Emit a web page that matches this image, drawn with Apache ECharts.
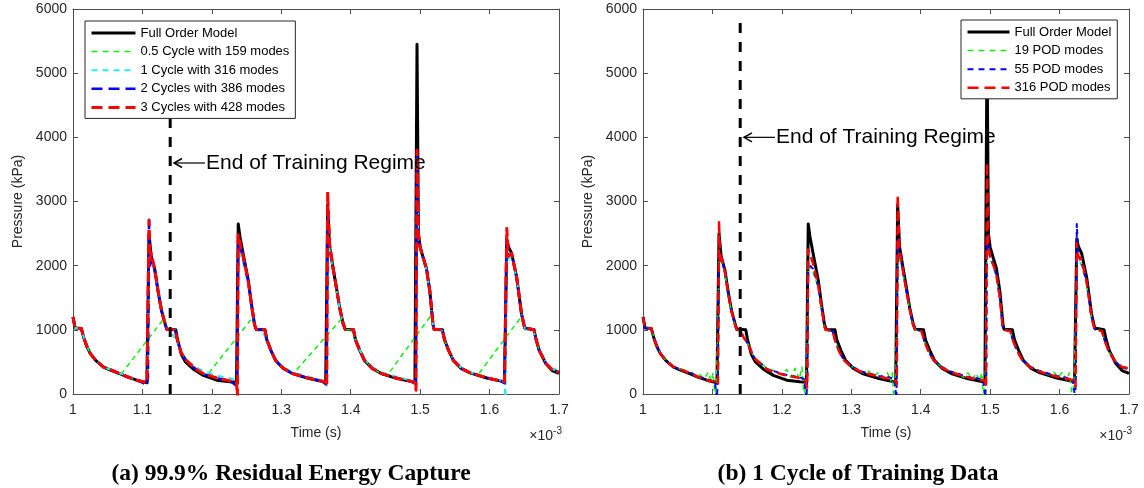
<!DOCTYPE html>
<html>
<head>
<meta charset="utf-8">
<script src="https://cdn.jsdelivr.net/npm/echarts@6/dist/echarts.min.js"></script>
<style>
  html, body { margin: 0; padding: 0; background: #fff; }
  #chart { width: 1144px; height: 488px; }
</style>
</head>
<body>
<div id="chart"></div>
<script>
// ---------------- DATA (time in units of 1e-3 s, pressure in kPa) ----------------
const xTickValues = [1, 1.1, 1.2, 1.3, 1.4, 1.5, 1.6, 1.7];
const yTickValues = [0, 1000, 2000, 3000, 4000, 5000, 6000];

const fullOrder = [
  [1.000,1200],[1.003,1030],[1.012,1020],[1.016,860],[1.020,740],[1.025,630],[1.033,520],[1.044,420],[1.055,370],[1.068,315],[1.080,260],[1.092,215],[1.1065,175],[1.108,200],
  [1.1095,2500],[1.1125,2150],[1.118,1930],[1.123,1570],[1.1275,1300],[1.1325,1100],[1.135,1010],[1.148,1000],[1.1505,850],[1.156,620],[1.162,500],[1.173,390],[1.1877,290],[1.207,215],[1.226,190],[1.2355,185],
  [1.238,2650],[1.2405,2450],[1.245,2190],[1.2525,1770],[1.257,1400],[1.2615,1080],[1.264,1005],[1.2765,1000],[1.279,850],[1.285,680],[1.292,520],[1.303,400],[1.316,320],[1.34,240],[1.358,200],[1.364,185],
  [1.3668,2950],[1.3695,2300],[1.374,2000],[1.3795,1650],[1.384,1350],[1.389,1100],[1.392,1010],[1.404,1000],[1.407,840],[1.413,680],[1.42,520],[1.431,400],[1.444,320],[1.467,240],[1.486,200],[1.4925,180],
  [1.4955,5450],[1.4975,2500],[1.500,2290],[1.505,2100],[1.509,1960],[1.514,1600],[1.5185,1080],[1.520,1010],[1.532,1000],[1.535,850],[1.541,680],[1.548,520],[1.559,400],[1.572,330],[1.596,250],[1.615,205],[1.6215,190],
  [1.6248,2420],[1.627,2300],[1.6318,2190],[1.639,1820],[1.646,1250],[1.6505,1030],[1.652,1000],[1.664,1000],[1.667,850],[1.6715,680],[1.681,475],[1.690,365],[1.700,320]
];

// panel (a)
const halfCycle159 = [
  [1.000,1180],[1.003,1030],[1.012,1020],[1.016,860],[1.020,740],[1.025,630],[1.033,520],[1.044,420],[1.055,370],[1.069,305],
  [1.132,1190],[1.136,1000],[1.147,1000],[1.150,850],[1.156,640],[1.1635,520],[1.1755,400],[1.193,290],
  [1.259,1195],[1.264,1000],[1.2765,1000],[1.279,850],[1.285,680],[1.292,520],[1.303,400],[1.317,315],
  [1.387,1175],[1.392,1000],[1.404,1000],[1.407,840],[1.413,680],[1.42,520],[1.431,400],[1.444,320],[1.453,295],
  [1.514,1200],[1.5185,1080],[1.520,1010],[1.532,1000],[1.535,850],[1.541,680],[1.548,520],[1.559,400],[1.572,330],[1.583,295],
  [1.645,1195],[1.652,1000],[1.664,1000],[1.667,850],[1.6715,680],[1.681,490],[1.690,400],[1.700,370]
];
const oneCycle316 = [
  [1.000,1200],[1.003,1030],[1.012,1010],[1.016,870],[1.020,750],[1.025,640],[1.033,525],[1.044,425],[1.055,375],[1.068,320],[1.080,265],[1.092,215],[1.1065,170],[1.108,220],
  [1.1095,2250],[1.1125,2100],[1.118,1900],[1.123,1560],[1.1275,1300],[1.1325,1100],[1.137,980],[1.145,900],[1.152,760],[1.158,620],[1.165,520],[1.177,420],[1.19,340],[1.21,280],[1.228,240],[1.2355,220],[1.2365,80],
  [1.238,2300],[1.2405,2200],[1.245,2050],[1.2525,1700],[1.257,1380],[1.2615,1080],[1.265,990],[1.274,960],[1.279,830],[1.285,680],[1.292,530],[1.303,420],[1.316,340],[1.34,270],[1.358,215],[1.364,190],[1.3655,130],
  [1.3668,2650],[1.3695,2250],[1.374,1950],[1.3795,1620],[1.384,1330],[1.389,1100],[1.392,1010],[1.403,980],[1.407,840],[1.413,690],[1.42,530],[1.431,420],[1.444,340],[1.467,265],[1.486,215],[1.4925,190],[1.494,120],
  [1.4955,3650],[1.4975,2400],[1.500,2250],[1.505,2080],[1.509,1940],[1.514,1580],[1.5185,1080],[1.520,1010],[1.531,990],[1.535,850],[1.541,690],[1.548,530],[1.559,410],[1.572,340],[1.596,260],[1.615,215],[1.6215,150],[1.623,-60],
  [1.6248,2250],[1.627,2100],[1.6318,2150],[1.639,1800],[1.646,1250],[1.6505,1030],[1.652,1000],[1.663,990],[1.667,850],[1.6715,690],[1.681,490],[1.690,390],[1.700,350]
];
const twoCycles386 = [
  [1.000,1200],[1.003,1030],[1.012,1020],[1.016,860],[1.020,740],[1.025,630],[1.033,520],[1.044,420],[1.055,370],[1.068,315],[1.080,260],[1.092,215],[1.1065,140],[1.108,260],
  [1.1095,2760],[1.111,2000],[1.1125,2150],[1.118,1900],[1.123,1560],[1.1275,1300],[1.1325,1100],[1.135,1010],[1.147,1000],[1.150,850],[1.156,640],[1.1635,520],[1.1755,400],[1.187,315],[1.207,245],[1.226,205],[1.2355,130],[1.2368,260],
  [1.238,2380],[1.2405,2300],[1.245,2120],[1.2525,1750],[1.257,1400],[1.2615,1080],[1.264,1005],[1.2765,1000],[1.279,850],[1.285,680],[1.292,520],[1.303,400],[1.316,320],[1.34,245],[1.358,205],[1.364,150],[1.3655,230],
  [1.3668,2900],[1.3695,2350],[1.374,2000],[1.3795,1650],[1.384,1350],[1.389,1100],[1.392,1010],[1.404,1000],[1.407,840],[1.413,680],[1.42,520],[1.431,400],[1.444,320],[1.467,245],[1.486,200],[1.4925,160],[1.494,100],
  [1.4955,3750],[1.4975,2450],[1.500,2290],[1.505,2100],[1.509,1960],[1.514,1600],[1.5185,1080],[1.520,1010],[1.532,1000],[1.535,850],[1.541,680],[1.548,520],[1.559,400],[1.572,330],[1.596,250],[1.615,205],[1.6215,170],
  [1.6248,2350],[1.627,2150],[1.6318,2190],[1.639,1820],[1.646,1250],[1.6505,1030],[1.652,1000],[1.664,1000],[1.667,850],[1.6715,680],[1.681,480],[1.690,380],[1.700,340]
];
const threeCycles428 = [
  [1.000,1200],[1.003,1030],[1.012,1020],[1.016,860],[1.020,740],[1.025,630],[1.033,520],[1.044,420],[1.055,375],[1.068,310],[1.080,265],[1.092,210],[1.1065,180],[1.108,200],
  [1.1095,2700],[1.111,2100],[1.1125,2200],[1.118,1930],[1.123,1570],[1.1275,1300],[1.1325,1100],[1.135,1010],[1.147,1000],[1.150,850],[1.156,640],[1.1635,520],[1.1755,400],[1.187,320],[1.207,250],[1.226,205],[1.2355,190],[1.2368,-40],
  [1.238,2480],[1.2405,2350],[1.245,2150],[1.2525,1750],[1.257,1400],[1.2615,1080],[1.264,1005],[1.2765,1000],[1.279,850],[1.285,680],[1.292,520],[1.303,400],[1.316,320],[1.34,245],[1.358,205],[1.364,185],[1.3655,120],
  [1.3668,3150],[1.3695,2350],[1.374,2000],[1.3795,1650],[1.384,1350],[1.389,1100],[1.392,1010],[1.404,1000],[1.407,840],[1.413,680],[1.42,520],[1.431,400],[1.444,320],[1.467,245],[1.486,200],[1.4925,180],[1.494,60],
  [1.4955,3800],[1.4975,2500],[1.500,2290],[1.505,2100],[1.509,1960],[1.514,1600],[1.5185,1080],[1.520,1010],[1.532,1000],[1.535,850],[1.541,680],[1.548,520],[1.559,400],[1.572,330],[1.596,250],[1.615,205],[1.6215,190],
  [1.6248,2580],[1.627,2150],[1.6318,2190],[1.639,1820],[1.646,1250],[1.6505,1030],[1.652,1000],[1.664,1000],[1.667,850],[1.6715,680],[1.681,480],[1.690,380],[1.700,340]
];

// panel (b)
const pod19 = [
  [1.000,1180],[1.003,1040],[1.012,1010],[1.016,870],[1.020,750],[1.025,640],[1.033,520],[1.044,440],[1.052,390],[1.058,400],[1.064,330],[1.070,340],[1.076,280],[1.082,300],[1.088,240],[1.094,340],[1.098,200],[1.101,330],[1.1035,-60],[1.106,250],
  [1.1095,2100],[1.1125,2100],[1.118,1880],[1.123,1540],[1.1275,1280],[1.1325,1080],[1.135,1000],[1.140,980],[1.145,870],[1.1513,780],[1.16,570],[1.1786,400],[1.19,360],[1.20,300],[1.207,380],[1.213,260],[1.219,400],[1.225,230],[1.229,420],[1.232,-60],[1.235,250],
  [1.238,2000],[1.2405,2000],[1.245,1900],[1.2525,1650],[1.257,1330],[1.2615,1040],[1.263,1000],[1.273,980],[1.277,820],[1.283,650],[1.29,520],[1.30,430],[1.31,390],[1.318,330],[1.325,360],[1.332,280],[1.339,330],[1.346,250],[1.352,330],[1.357,200],[1.359,330],[1.361,-60],[1.364,250],
  [1.3668,2050],[1.3695,2100],[1.374,1900],[1.3795,1600],[1.384,1320],[1.389,1070],[1.392,1000],[1.401,980],[1.405,830],[1.411,670],[1.418,530],[1.429,430],[1.443,350],[1.455,320],[1.462,260],[1.468,330],[1.474,230],[1.480,320],[1.485,200],[1.488,330],[1.490,-60],[1.493,260],
  [1.4955,2300],[1.4975,2200],[1.500,2100],[1.505,1980],[1.509,1830],[1.514,1500],[1.518,1050],[1.520,1000],[1.529,980],[1.533,830],[1.539,670],[1.546,530],[1.557,430],[1.571,360],[1.585,300],[1.592,340],[1.598,260],[1.604,340],[1.610,220],[1.614,330],[1.6185,-60],[1.621,250],
  [1.6248,2050],[1.627,2100],[1.6318,2000],[1.639,1700],[1.646,1200],[1.6505,1010],[1.661,980],[1.665,830],[1.6715,650],[1.681,500],[1.690,420],[1.700,420]
];
const pod55 = [
  [1.000,1200],[1.003,1030],[1.012,1020],[1.016,860],[1.020,740],[1.025,630],[1.033,520],[1.044,430],[1.055,370],[1.068,330],[1.080,270],[1.092,230],[1.100,200],[1.104,150],[1.1065,-60],[1.108,300],
  [1.1095,2200],[1.1125,2150],[1.118,1900],[1.123,1550],[1.1275,1290],[1.1325,1090],[1.135,1000],[1.140,990],[1.145,880],[1.1513,780],[1.16,570],[1.1786,390],[1.2023,310],[1.215,280],[1.226,260],[1.232,230],[1.2355,-60],[1.2368,300],
  [1.238,2050],[1.2405,2000],[1.245,1950],[1.2525,1680],[1.257,1350],[1.2615,1050],[1.263,1000],[1.273,980],[1.277,820],[1.283,650],[1.29,520],[1.30,430],[1.315,350],[1.34,280],[1.355,260],[1.362,230],[1.365,-60],[1.3655,250],
  [1.3668,2400],[1.3695,2200],[1.374,1950],[1.3795,1600],[1.384,1330],[1.389,1080],[1.392,1000],[1.401,980],[1.405,830],[1.411,670],[1.418,530],[1.429,430],[1.443,350],[1.467,270],[1.483,240],[1.490,220],[1.493,-40],[1.4945,300],
  [1.4955,2500],[1.4975,2300],[1.500,2150],[1.505,2000],[1.509,1850],[1.514,1500],[1.518,1050],[1.520,1000],[1.529,980],[1.533,830],[1.539,670],[1.546,530],[1.557,430],[1.571,360],[1.596,280],[1.612,250],[1.619,220],[1.6225,-60],[1.6235,300],
  [1.6248,2650],[1.627,2150],[1.6318,2050],[1.639,1750],[1.646,1200],[1.6505,1010],[1.661,980],[1.665,830],[1.6715,650],[1.681,500],[1.690,410],[1.700,390]
];
const pod316 = [
  [1.000,1200],[1.003,1030],[1.012,1020],[1.016,860],[1.020,740],[1.025,630],[1.033,520],[1.044,420],[1.055,380],[1.068,320],[1.080,265],[1.092,215],[1.1065,190],[1.108,150],
  [1.1095,2700],[1.111,2050],[1.1125,2150],[1.118,1900],[1.123,1550],[1.1275,1290],[1.1325,1090],[1.135,1000],[1.140,990],[1.145,880],[1.1513,785],[1.16,560],[1.1786,380],[1.2023,300],[1.226,250],[1.234,200],[1.2365,100],
  [1.238,2250],[1.2405,2180],[1.245,2030],[1.2525,1680],[1.257,1350],[1.2615,1050],[1.263,1000],[1.273,980],[1.277,820],[1.283,650],[1.29,520],[1.30,420],[1.315,340],[1.34,270],[1.358,230],[1.364,200],[1.3655,150],
  [1.3668,3100],[1.3695,2250],[1.374,1950],[1.3795,1600],[1.384,1330],[1.389,1080],[1.392,1000],[1.401,980],[1.405,830],[1.411,670],[1.418,530],[1.429,420],[1.443,340],[1.467,260],[1.486,220],[1.4925,200],[1.494,100],
  [1.4955,3600],[1.4975,2300],[1.500,2150],[1.505,2000],[1.509,1850],[1.514,1500],[1.518,1050],[1.520,1000],[1.529,980],[1.533,830],[1.539,670],[1.546,530],[1.557,420],[1.571,350],[1.596,270],[1.615,230],[1.6215,200],[1.623,120],
  [1.6248,2350],[1.627,2150],[1.6318,2100],[1.639,1750],[1.646,1200],[1.6505,1010],[1.661,980],[1.665,830],[1.6715,650],[1.681,500],[1.690,420],[1.700,400]
];

const trainingEndLine = [[1.14, 0], [1.14, 5920]];
const annotationText = 'End of Training Regime';
const annotationY = [3600, 4000];          // kPa level of the arrow, panel a / b
const annotationX = [1.1455, 1.1915];      // arrow tip, text start
const panelCaptions = ['(a) 99.9% Residual Energy Capture', '(b) 1 Cycle of Training Data'];
const legendNamesA = ['Full Order Model', '0.5 Cycle with 159 modes', '1 Cycle with 316 modes', '2 Cycles with 386 modes', '3 Cycles with 428 modes'];
const legendNamesB = ['Full Order Model', '19 POD modes', '55 POD modes', '316 POD modes'];

// ---------------- CHART ----------------
const FONT = "'Liberation Sans', Arial, Helvetica, sans-serif";
const AXC = '#505050';
const LBC = '#262626';

const chart = echarts.init(document.getElementById('chart'), null, { renderer: 'canvas' });

const GRIDS = [
  { left: 73, top: 9, width: 486, height: 385 },
  { left: 643, top: 9, width: 486, height: 385 }
];

function xAxes(g) {
  const base = {
    gridIndex: g, type: 'value', min: xTickValues[0], max: xTickValues[xTickValues.length - 1], interval: 0.1,
    axisLine: { show: true, onZero: false, lineStyle: { color: AXC, width: 1 } },
    axisTick: { show: true, inside: true, length: 5, lineStyle: { color: AXC, width: 1 } },
    splitLine: { show: false }
  };
  return [
    Object.assign({}, base, {
      position: 'bottom',
      axisLabel: { color: LBC, fontSize: 14, fontFamily: FONT, margin: 9, formatter: v => String(+(+v).toFixed(1)) },
      name: 'Time (s)', nameLocation: 'middle', nameGap: 32,
      nameTextStyle: { color: LBC, fontSize: 14, fontFamily: FONT }
    }),
    Object.assign({}, base, { position: 'top', axisLabel: { show: false } })
  ];
}
function yAxes(g) {
  const base = {
    gridIndex: g, type: 'value', min: yTickValues[0], max: yTickValues[yTickValues.length - 1], interval: 1000,
    axisLine: { show: true, onZero: false, lineStyle: { color: AXC, width: 1 } },
    axisTick: { show: true, inside: true, length: 5, lineStyle: { color: AXC, width: 1 } },
    splitLine: { show: false }
  };
  return [
    Object.assign({}, base, {
      position: 'left',
      axisLabel: { color: LBC, fontSize: 14, fontFamily: FONT, margin: 6, formatter: v => String(Math.round(v)) },
      name: 'Pressure (kPa)', nameLocation: 'middle', nameGap: 48,
      nameTextStyle: { color: LBC, fontSize: 14, fontFamily: FONT }
    }),
    Object.assign({}, base, { position: 'right', axisLabel: { show: false } })
  ];
}

function lineSeries(name, data, g, color, width, type, z) {
  return {
    name, type: 'line', data, xAxisIndex: g * 2, yAxisIndex: g * 2,
    symbol: 'none', showSymbol: false, clip: true, smooth: false, z: z,
    lineStyle: { color, width, type, cap: 'butt', join: 'round' },
    itemStyle: { color },
    emphasis: { disabled: true }, animation: false
  };
}

const GREEN = '#11ee11', CYAN = '#22eeee', BLUE = '#0000ff', RED = '#ff0000', BLACK = '#000000';

const series = [
  lineSeries('Full Order Model', fullOrder, 0, BLACK, 3, 'solid', 2),
  lineSeries('0.5 Cycle with 159 modes', halfCycle159, 0, GREEN, 1.5, [5, 4], 3),
  lineSeries('1 Cycle with 316 modes', oneCycle316, 0, CYAN, 2, [6, 5], 4),
  lineSeries('2 Cycles with 386 modes', twoCycles386, 0, BLUE, 2.5, [9, 5], 5),
  lineSeries('3 Cycles with 428 modes', threeCycles428, 0, RED, 3, [10, 4], 6),
  lineSeries('Training end a', trainingEndLine, 0, BLACK, 3, [10, 9], 7),

  lineSeries('Full Order Model', fullOrder, 1, BLACK, 3, 'solid', 2),
  lineSeries('19 POD modes', pod19, 1, GREEN, 1.5, [5, 4], 3),
  lineSeries('55 POD modes', pod55, 1, BLUE, 2, [5, 4], 4),
  lineSeries('316 POD modes', pod316, 1, RED, 2.5, [9, 5], 5),
  lineSeries('Training end b', trainingEndLine, 1, BLACK, 3, [10, 9], 7)
];

const legendStyles = {
  'Full Order Model': { width: 3, type: 'solid' },
  '0.5 Cycle with 159 modes': { width: 1.5, type: [6, 5] },
  '1 Cycle with 316 modes': { width: 2, type: [6, 5] },
  '2 Cycles with 386 modes': { width: 2.5, type: [11, 6] },
  '3 Cycles with 428 modes': { width: 3, type: [11, 6] },
  '19 POD modes': { width: 1.5, type: [6, 5] },
  '55 POD modes': { width: 2, type: [6, 5] },
  '316 POD modes': { width: 2.5, type: [11, 6] }
};
function legend(names, left, top, itemWidth) {
  return {
    orient: 'vertical', left, top, itemWidth, itemHeight: 14, itemGap: 4.6,
    padding: [5, 6, 4, 5], borderColor: '#262626', borderWidth: 1, backgroundColor: '#fff',
    borderRadius: 0, selectedMode: false, z: 20,
    textStyle: { color: '#000', fontSize: 13, fontFamily: FONT, lineHeight: 14 },
    data: names.map(n => ({
      name: n,
      lineStyle: Object.assign({}, legendStyles[n]),
      itemStyle: { opacity: 0, color: 'rgba(0,0,0,0)', borderColor: 'rgba(0,0,0,0)', borderWidth: 0 }
    }))
  };
}

const option = {
  animation: false,
  backgroundColor: '#fff',
  grid: GRIDS,
  xAxis: [...xAxes(0), ...xAxes(1)],
  yAxis: [...yAxes(0), ...yAxes(1)],
  legend: [legend(legendNamesA, 85, 21, 44), legend(legendNamesB, 961, 20, 42)],
  series
};
chart.setOption(option);

// annotations, exponent labels and captions, positioned through the axes
const graphics = [];
[0, 1].forEach(g => {
  const seriesIdx = g === 0 ? 0 : 6;
  const tip = chart.convertToPixel({ seriesIndex: seriesIdx }, [annotationX[0], annotationY[g]]);
  const txt = chart.convertToPixel({ seriesIndex: seriesIdx }, [annotationX[1], annotationY[g]]);
  graphics.push({
    type: 'polyline', z: 30, silent: true,
    shape: { points: [[txt[0] - 1, tip[1]], [tip[0], tip[1]]] },
    style: { stroke: '#000', lineWidth: 1.2, fill: null }
  });
  graphics.push({
    type: 'polyline', z: 30, silent: true,
    shape: { points: [[tip[0] + 8, tip[1] - 4.5], [tip[0], tip[1]], [tip[0] + 8, tip[1] + 4.5]] },
    style: { stroke: '#000', lineWidth: 1.5, fill: null }
  });
  graphics.push({
    type: 'text', z: 30, silent: true, x: txt[0], y: tip[1],
    style: { text: annotationText, fill: '#000', font: '21px ' + FONT, textAlign: 'left', textVerticalAlign: 'middle' }
  });
  const corner = chart.convertToPixel({ seriesIndex: seriesIdx }, [xTickValues[xTickValues.length - 1], 0]);
  graphics.push({
    type: 'text', z: 30, silent: true, x: corner[0] + 3, y: corner[1] + 42,
    style: {
      text: '{a|×10}{b|-3}', textAlign: 'right', textVerticalAlign: 'middle',
      rich: {
        a: { fontSize: 14, fontFamily: FONT, fill: LBC, color: LBC },
        b: { fontSize: 10, fontFamily: FONT, fill: LBC, color: LBC, verticalAlign: 'top', padding: [0, 0, 10, 0] }
      }
    }
  });
});
graphics.push({
  type: 'text', silent: true, x: 291, y: 474,
  style: { text: panelCaptions[0], fill: '#000', font: 'bold 23.5px "Liberation Serif", "Times New Roman", serif', textAlign: 'center', textVerticalAlign: 'middle' }
});
graphics.push({
  type: 'text', silent: true, x: 858, y: 474,
  style: { text: panelCaptions[1], fill: '#000', font: 'bold 23.5px "Liberation Serif", "Times New Roman", serif', textAlign: 'center', textVerticalAlign: 'middle' }
});
chart.setOption({ graphic: graphics });
</script>
</body>
</html>
